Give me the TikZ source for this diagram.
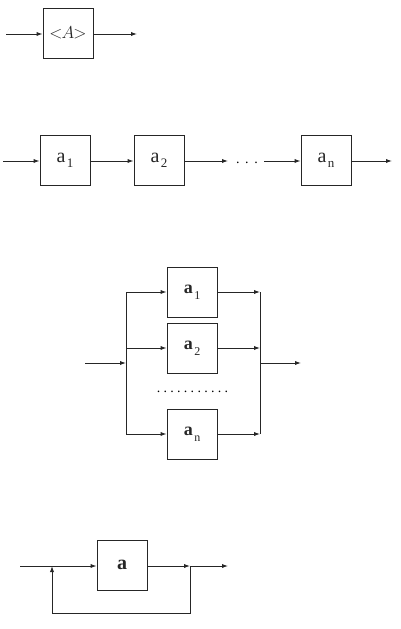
\documentclass[tikz,border=0pt]{standalone}
\usepackage{fontspec}
\setmainfont{Liberation Serif}
\usetikzlibrary{arrows.meta}
\newcommand{\blocklbl}[5]{{\fontsize{#1}{#1}\selectfont#3}\kern1.5pt{\fontsize{#2}{#2}\selectfont\mdseries\raisebox{-#5}{#4}}}
\begin{document}
\begin{tikzpicture}[x=1pt,y=-1pt,
  wire/.style={draw=black!85,line width=0.9pt},
  arr/.style={wire,-{Latex[length=6pt,width=4.2pt]}},
  blk/.style={draw=black!85,line width=0.9pt,minimum width=50pt,minimum height=50pt,inner sep=0pt,text=black!85}]
\useasboundingbox (0,0) rectangle (400,629);
% ---------- diagram 1
\coordinate (in1) at (6,34);
\node[blk] (A) at (68,33) {\fontsize{16}{16}\selectfont$<\!\!A\!\!>$};
\coordinate (out1) at (137,34);
\draw[arr] (in1) -- (A.west |- in1);
\draw[arr] (A.east |- out1) -- (out1);
% ---------- diagram 2
\coordinate (in2) at (3,161);
\node[blk] (s1) at (65,160) {\blocklbl{20}{13}{a}{1}{5pt}};
\node[blk] (s2) at (159,160) {\blocklbl{20}{13}{a}{2}{5pt}};
\node[blk] (sn) at (326,160) {\blocklbl{20}{13}{a}{n}{5pt}};
\node[inner sep=0pt] (sdots) at (247,163) {\fontsize{14}{14}\selectfont. \kern1pt. \kern1pt.};
\coordinate (d2a) at (228,161);
\coordinate (d2b) at (264,161);
\coordinate (out2) at (392,161);
\draw[arr] (in2) -- (s1.west |- in2);
\draw[arr] (s1.east |- in2) -- (s2.west |- in2);
\draw[arr] (s2.east |- in2) -- (d2a);
\draw[arr] (d2b) -- (sn.west |- in2);
\draw[arr] (sn.east |- in2) -- (out2);
% ---------- diagram 3
\coordinate (in3) at (85,363);
\coordinate (sp3) at (126,363);
\node[blk] (p1) at (192,292) {\blocklbl{18}{12}{\bfseries a}{1}{6pt}};
\node[blk] (p2) at (192,348) {\blocklbl{18}{12}{\bfseries a}{2}{6pt}};
\node[blk] (pn) at (192,434) {\blocklbl{18}{12}{\bfseries a}{n}{6pt}};
\node[inner sep=0pt] (pdots) at (192.5,392) {\fontsize{14}{14}\selectfont .\kern3.3pt.\kern3.3pt.\kern3.3pt.\kern3.3pt.\kern3.3pt.\kern3.3pt.\kern3.3pt.\kern3.3pt.\kern3.3pt.\kern3.3pt.};
\coordinate (jn3) at (260,363);
\coordinate (out3) at (301,363);
\draw[arr] (in3) -- (sp3);
\draw[wire] (sp3 |- p1) -- (sp3 |- pn);
\draw[arr] (sp3 |- p1) -- (p1.west);
\draw[arr] (sp3 |- p2) -- (p2.west);
\draw[arr] (sp3 |- pn) -- (pn.west);
\draw[arr] (p1.east) -- (jn3 |- p1);
\draw[arr] (p2.east) -- (jn3 |- p2);
\draw[arr] (pn.east) -- (jn3 |- pn);
\draw[wire] (jn3 |- p1) -- (jn3 |- pn);
\draw[arr] (jn3) -- (out3);
% ---------- diagram 4
\coordinate (in4) at (20,566);
\coordinate (fb4) at (52,566);
\node[blk] (fa) at (122,565) {\fontsize{20}{20}\selectfont\bfseries a};
\coordinate (sp4) at (190,566);
\coordinate (out4) at (228,566);
\coordinate (bl4) at (52,613);
\coordinate (br4) at (190,613);
\draw[arr] (in4) -- (fa.west |- in4);
\draw[arr] (fa.east |- in4) -- (sp4);
\draw[arr] (sp4) -- (out4);
\draw[arr] (sp4) -- (br4) -- (bl4) -- (fb4);
\end{tikzpicture}
\end{document}
